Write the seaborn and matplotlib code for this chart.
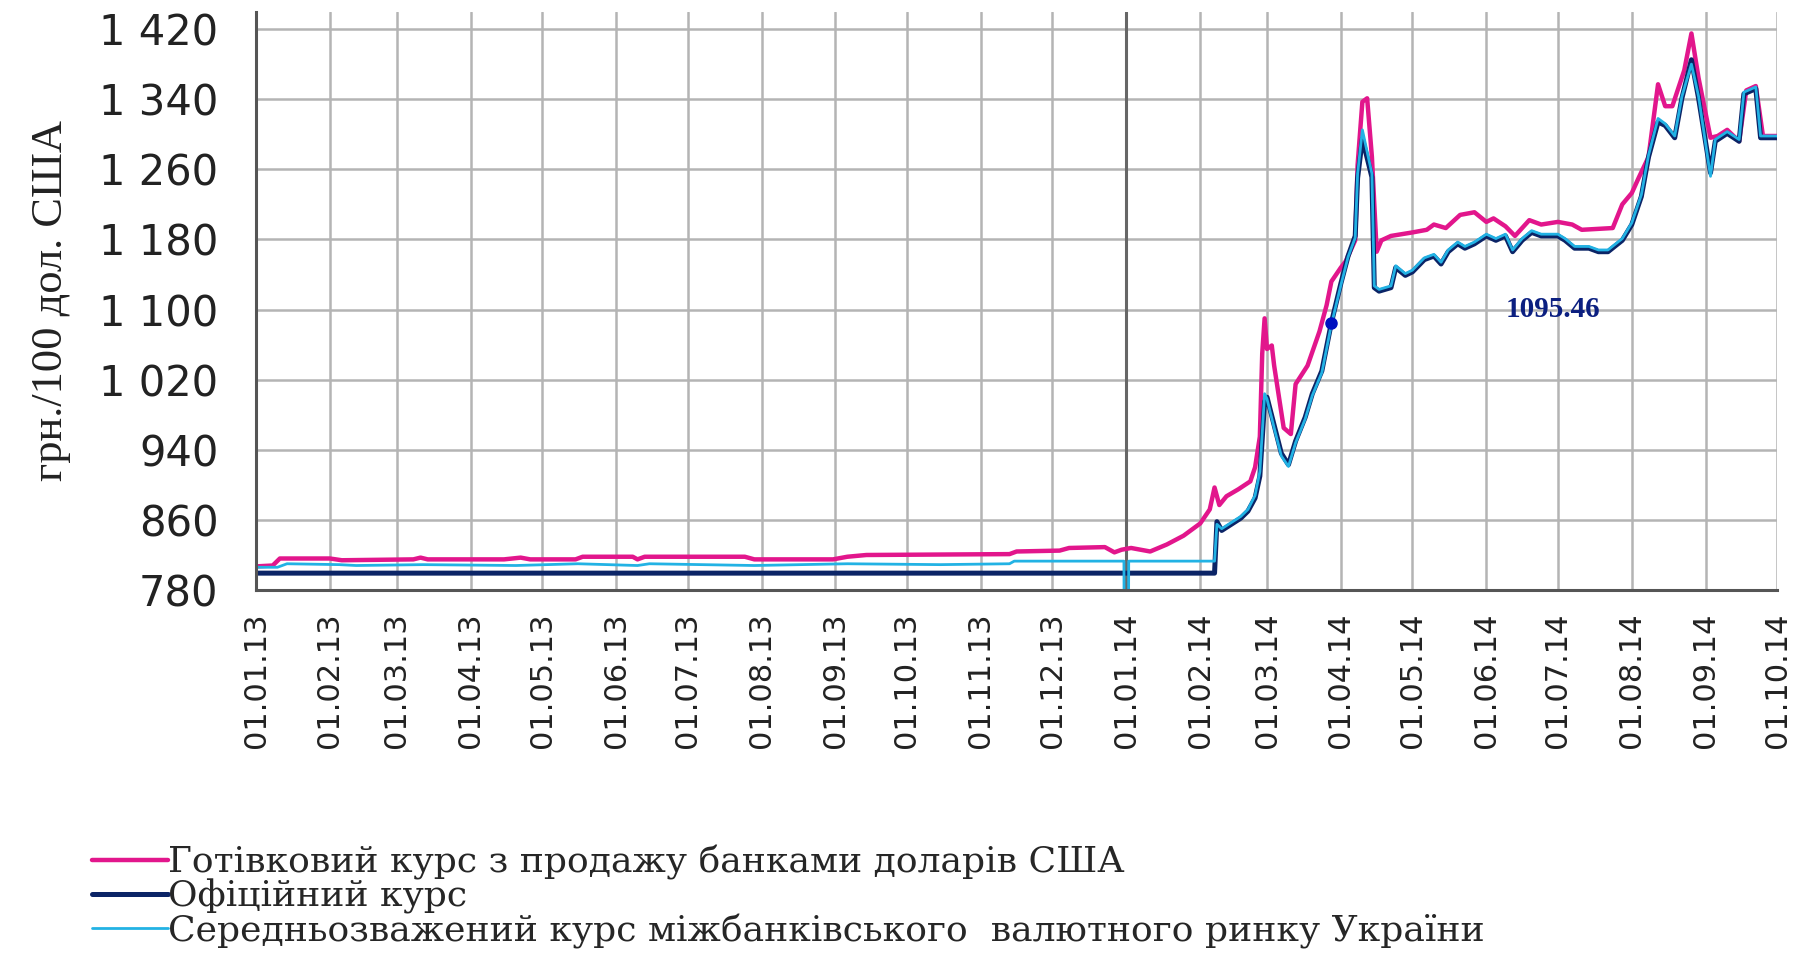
import matplotlib
matplotlib.use("Agg")
import matplotlib.pyplot as plt
import matplotlib.dates as mdates
import matplotlib.ticker as mticker
import seaborn as sns
import pandas as pd

# Cash selling rate of USD by banks
cash_dates = [
    "2013-01-01", "2013-01-08", "2013-01-11", "2013-02-01", "2013-02-06", "2013-03-08",
    "2013-03-11", "2013-03-14", "2013-04-15", "2013-04-22", "2013-04-26", "2013-05-15",
    "2013-05-18", "2013-06-08", "2013-06-10", "2013-06-13", "2013-07-25", "2013-07-29",
    "2013-08-31", "2013-09-06", "2013-09-14", "2013-11-13", "2013-11-16", "2013-12-04",
    "2013-12-08", "2013-12-23", "2013-12-27", "2013-12-30", "2014-01-03", "2014-01-11",
    "2014-01-18", "2014-01-25", "2014-02-01", "2014-02-05", "2014-02-07", "2014-02-09",
    "2014-02-12", "2014-02-17", "2014-02-22", "2014-02-24", "2014-02-26", "2014-02-27",
    "2014-02-28", "2014-03-01", "2014-03-03", "2014-03-04", "2014-03-08", "2014-03-11",
    "2014-03-13", "2014-03-18", "2014-03-23", "2014-03-26", "2014-03-28", "2014-04-01",
    "2014-04-03", "2014-04-04", "2014-04-07", "2014-04-08", "2014-04-10", "2014-04-12",
    "2014-04-14", "2014-04-16", "2014-04-18", "2014-04-22", "2014-05-01", "2014-05-07",
    "2014-05-10", "2014-05-15", "2014-05-21", "2014-05-27", "2014-06-01", "2014-06-04",
    "2014-06-09", "2014-06-13", "2014-06-19", "2014-06-24", "2014-07-01", "2014-07-07",
    "2014-07-11", "2014-07-24", "2014-07-28", "2014-08-01", "2014-08-04", "2014-08-08",
    "2014-08-12", "2014-08-15", "2014-08-18", "2014-08-23", "2014-08-26", "2014-08-29",
    "2014-09-03", "2014-09-06", "2014-09-10", "2014-09-15", "2014-09-18", "2014-09-22",
    "2014-09-25", "2014-10-01",
]
cash_values = [
    807, 808, 816, 816, 814, 815,
    817, 815, 815, 817, 815, 815,
    818, 818, 815, 818, 818, 815,
    815, 818, 820, 821, 824, 825,
    828, 829, 823, 826, 828, 824,
    832, 842, 856, 872, 897, 877,
    887, 895, 904, 920, 955, 1050,
    1090, 1055, 1059, 1036, 965, 958,
    1015, 1036, 1075, 1105, 1132, 1148,
    1155, 1161, 1179, 1265, 1337, 1341,
    1274, 1166, 1179, 1184, 1188, 1191,
    1197, 1193, 1208, 1211, 1200, 1204,
    1195, 1184, 1202, 1197, 1200, 1197,
    1191, 1193, 1220, 1233, 1251, 1274,
    1357, 1332, 1332, 1373, 1415, 1364,
    1296, 1298, 1305, 1292, 1350, 1355,
    1298, 1298,
]

# Official NBU rate
official_dates = [
    "2013-01-01", "2014-02-07", "2014-02-08", "2014-02-10", "2014-02-14", "2014-02-18",
    "2014-02-21", "2014-02-24", "2014-02-26", "2014-02-28", "2014-03-01", "2014-03-04",
    "2014-03-07", "2014-03-10", "2014-03-13", "2014-03-17", "2014-03-20", "2014-03-24",
    "2014-03-28", "2014-04-01", "2014-04-04", "2014-04-07", "2014-04-08", "2014-04-10",
    "2014-04-14", "2014-04-15", "2014-04-17", "2014-04-22", "2014-04-24", "2014-04-28",
    "2014-05-01", "2014-05-06", "2014-05-10", "2014-05-13", "2014-05-16", "2014-05-20",
    "2014-05-23", "2014-05-27", "2014-06-01", "2014-06-05", "2014-06-09", "2014-06-12",
    "2014-06-16", "2014-06-20", "2014-06-24", "2014-07-01", "2014-07-04", "2014-07-08",
    "2014-07-14", "2014-07-18", "2014-07-22", "2014-07-28", "2014-08-01", "2014-08-05",
    "2014-08-08", "2014-08-12", "2014-08-15", "2014-08-19", "2014-08-22", "2014-08-26",
    "2014-08-29", "2014-09-03", "2014-09-05", "2014-09-10", "2014-09-15", "2014-09-17",
    "2014-09-22", "2014-09-24", "2014-10-01",
]
official_values = [
    799.3, 799.3, 858, 848, 855, 862,
    870, 885, 910, 995, 1000, 968,
    936, 923, 950, 977, 1004, 1030,
    1085, 1130, 1161, 1184, 1250, 1295,
    1251, 1125, 1121, 1125, 1148, 1139,
    1143, 1157, 1161, 1152, 1166, 1175,
    1170, 1175, 1184, 1179, 1184, 1166,
    1179, 1188, 1184, 1184, 1179, 1170,
    1170, 1166, 1166, 1179, 1197, 1229,
    1274, 1314, 1310, 1296, 1341, 1385,
    1341, 1256, 1292, 1301, 1292, 1346,
    1352, 1296, 1296,
]

# Weighted average interbank rate
interbank_dates = [
    "2013-01-01", "2013-01-10", "2013-01-14", "2013-02-05", "2013-02-12", "2013-03-12",
    "2013-04-20", "2013-05-16", "2013-06-10", "2013-06-15", "2013-07-29", "2013-09-06",
    "2013-10-15", "2013-11-13", "2013-11-15", "2013-12-31", "2014-01-01", "2014-01-02",
    "2014-02-07", "2014-02-08", "2014-02-10", "2014-02-14", "2014-02-18", "2014-02-21",
    "2014-02-24", "2014-02-26", "2014-02-28", "2014-03-01", "2014-03-04", "2014-03-07",
    "2014-03-10", "2014-03-13", "2014-03-17", "2014-03-20", "2014-03-24", "2014-03-28",
    "2014-04-01", "2014-04-04", "2014-04-07", "2014-04-08", "2014-04-10", "2014-04-14",
    "2014-04-15", "2014-04-17", "2014-04-22", "2014-04-24", "2014-04-28", "2014-05-01",
    "2014-05-06", "2014-05-10", "2014-05-13", "2014-05-16", "2014-05-20", "2014-05-23",
    "2014-05-27", "2014-06-01", "2014-06-05", "2014-06-09", "2014-06-12", "2014-06-16",
    "2014-06-20", "2014-06-24", "2014-07-01", "2014-07-04", "2014-07-08", "2014-07-14",
    "2014-07-18", "2014-07-22", "2014-07-28", "2014-08-01", "2014-08-05", "2014-08-08",
    "2014-08-12", "2014-08-15", "2014-08-19", "2014-08-22", "2014-08-26", "2014-08-29",
    "2014-09-03", "2014-09-05", "2014-09-10", "2014-09-15", "2014-09-17", "2014-09-22",
    "2014-09-24", "2014-10-01",
]
interbank_values = [
    806, 806, 810, 809, 808, 809,
    808, 810, 808, 810, 808, 810,
    809, 810, 813, 813, 0, 813,
    813, 855, 850, 857, 864, 872,
    888, 915, 1004, 998, 965, 933,
    921, 948, 975, 1002, 1028, 1083,
    1128, 1160, 1182, 1255, 1305, 1255,
    1127, 1123, 1127, 1150, 1141, 1145,
    1159, 1163, 1154, 1168, 1177, 1172,
    1177, 1186, 1181, 1186, 1168, 1181,
    1190, 1186, 1186, 1181, 1172, 1172,
    1168, 1168, 1181, 1199, 1231, 1276,
    1318, 1312, 1298, 1343, 1380, 1343,
    1252, 1294, 1303, 1294, 1348, 1354,
    1298, 1298,
]

series_labels = [
    "Готівковий курс з продажу банками доларів США",
    "Офіційний курс",
    "Середньозважений курс міжбанківського  валютного ринку України",
]
series_colors = ["#E2168C", "#0B2466", "#22B2E4"]
y_ticks = [780, 860, 940, 1020, 1100, 1180, 1260, 1340, 1420]
marker_date = "2014-03-28"
marker_value = 1085
note_date = "2014-06-29"
note_text = "1095.46"

sns.set_style("white")

fig = plt.figure(figsize=(18.08, 9.61), dpi=100)
ax = fig.add_axes([0.1416, 0.386, 0.8414, 0.602])

sns.lineplot(x=pd.to_datetime(cash_dates), y=cash_values, ax=ax,
             color=series_colors[0], lw=3.2, label=series_labels[0])
sns.lineplot(x=pd.to_datetime(official_dates), y=official_values, ax=ax,
             color=series_colors[1], lw=3.6, label=series_labels[1])
sns.lineplot(x=pd.to_datetime(interbank_dates), y=interbank_values, ax=ax,
             color=series_colors[2], lw=2.0, label=series_labels[2])

ax.plot(pd.to_datetime([marker_date]), [marker_value], "o", color="#0010C0", ms=8, zorder=5)
ax.text(pd.to_datetime(note_date), 1100, note_text, color="#0B1F80", fontsize=21,
        fontweight="bold", family="Liberation Serif", ha="center", va="center")

# separator at start of 2014
ax.axvline(pd.to_datetime("2014-01-01"), color="#666666", lw=2.2, zorder=1)

ax.set_xlim(pd.to_datetime("2013-01-01"), pd.to_datetime("2014-10-01"))
ax.set_ylim(780, 1440)
ax.set_yticks(y_ticks)
ax.yaxis.set_major_formatter(mticker.FuncFormatter(lambda v, p: f"{v:,.0f}".replace(",", " ")))
ax.xaxis.set_major_locator(mdates.MonthLocator())
ax.xaxis.set_major_formatter(mdates.DateFormatter("%d.%m.%y"))

ax.grid(True, color="#b4b4b4", lw=1.8)
ax.set_axisbelow(True)
for s in ["top", "right"]:
    ax.spines[s].set_visible(False)
for s in ["left", "bottom"]:
    ax.spines[s].set_color("#555555")
    ax.spines[s].set_linewidth(2.2)

ax.tick_params(axis="both", direction="out", length=12, width=1.8, color="#555555")
ax.tick_params(axis="y", labelsize=30, pad=15)
ax.tick_params(axis="x", labelsize=22, labelrotation=90, pad=4)
for lab in ax.get_xticklabels() + ax.get_yticklabels():
    lab.set_family("DejaVu Sans")
    lab.set_color("#222222")

ax.set_xlabel("")
ax.set_ylabel("грн./100 дол. США", fontsize=32, family="Liberation Serif", color="#222222",
              labelpad=20)

handles, labels = ax.get_legend_handles_labels()
ax.get_legend().remove()
fig.legend(handles, labels, loc="upper left", bbox_to_anchor=(0.043, 0.136),
           bbox_transform=fig.transFigure, frameon=False, ncol=1,
           prop={"family": "DejaVu Serif", "size": 26}, handlelength=2.1,
           handletextpad=0.0, labelspacing=-0.02, borderaxespad=0)

fig.savefig("out.png", dpi=100)
